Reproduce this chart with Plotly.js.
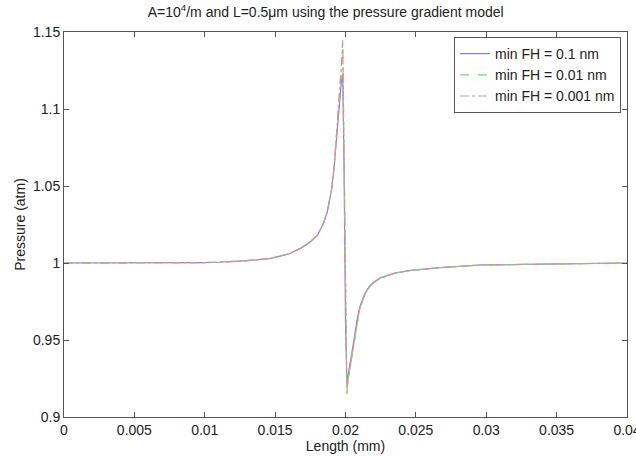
<!DOCTYPE html>
<html>
<head>
<meta charset="utf-8">
<script src="https://cdn.plot.ly/plotly-3.0.1.min.js"></script>
<style>html,body{margin:0;padding:0;background:#fff;}#chart{width:636px;height:457px;}</style>
</head>
<body>
<div id="chart"></div>
<script>
const lengthMM = [0,0.005,0.01,0.011,0.013,0.0147,0.0160,0.0168,0.0174,0.0180,0.0184,0.0187,0.0190,0.0192,0.01935,0.0195,0.0196,0.0197,0.0198,0.0199,0.0200,0.0201,0.0202,0.0204,0.0206,0.0208,0.0210,0.0212,0.0214,0.0217,0.0220,0.0225,0.0235,0.0245,0.0267,0.0296,0.035,0.04];
const fh01   = [1,1,1.0003,1.0005,1.0015,1.003,1.006,1.0095,1.013,1.018,1.025,1.033,1.047,1.063,1.080,1.100,1.110,1.117,1.123,1.06,0.96,0.922,0.928,0.938,0.950,0.962,0.971,0.976,0.9805,0.985,0.9875,0.9905,0.9935,0.995,0.997,0.9987,0.9995,1];
const fh001  = [1,1,1.0003,1.0005,1.0015,1.003,1.006,1.0095,1.013,1.018,1.025,1.033,1.047,1.063,1.081,1.102,1.114,1.127,1.145,1.07,0.96,0.915,0.925,0.936,0.949,0.961,0.970,0.975,0.980,0.9845,0.9872,0.9903,0.9933,0.995,0.997,0.9987,0.9995,1];
const fh0001 = [1,1,1.0003,1.0005,1.0015,1.003,1.006,1.0095,1.013,1.018,1.025,1.033,1.047,1.063,1.081,1.102,1.113,1.126,1.143,1.07,0.96,0.916,0.925,0.936,0.949,0.961,0.970,0.975,0.980,0.9845,0.9872,0.9903,0.9933,0.995,0.997,0.9987,0.9995,1];
const seriesNames = ['min FH = 0.1 nm','min FH = 0.01 nm','min FH = 0.001 nm'];
const xTicks = [0,0.005,0.01,0.015,0.02,0.025,0.03,0.035,0.04];
const xTickText = ['0','0.005','0.01','0.015','0.02','0.025','0.03','0.035','0.04'];
const yTicks = [0.9,0.95,1,1.05,1.1,1.15];
const yTickText = ['0.9','0.95','1','1.05','1.1','1.15'];

const fam = 'Liberation Sans, Arial, sans-serif';
const font = {family:fam, size:14, color:'#222'};
const traces = [
  {x:lengthMM, y:fh01, name:seriesNames[0], mode:'lines', line:{color:'#8080e6', width:1.2, dash:'solid'}},
  {x:lengthMM, y:fh001, name:seriesNames[1], mode:'lines', line:{color:'#6ce06c', width:1.2, dash:'dash'}},
  {x:lengthMM, y:fh0001, name:seriesNames[2], mode:'lines', line:{color:'#e88c8c', width:1.2, dash:'dashdot'}}
];
const axisCommon = {showline:true, linecolor:'#555', linewidth:1, mirror:'allticks', ticks:'inside', ticklen:5, tickcolor:'#555', showgrid:false, zeroline:false, tickfont:font, ticklabeloverflow:'allow'};
const layout = {
  width:636, height:457,
  margin:{l:64, r:9, t:32, b:40},
  paper_bgcolor:'#fff', plot_bgcolor:'#fff',
  font:font,
  title:{text:'A=10<sup>4</sup>/m and L=0.5μm using the pressure gradient model', font:{family:fam, size:14, color:'#222'}, x:0.512, xanchor:'center', y:0.973, yanchor:'middle'},
  xaxis:Object.assign({}, axisCommon, {range:[0,0.04], tickvals:xTicks, ticktext:xTickText, title:{text:'Length (mm)', font:font, standoff:0}}),
  yaxis:Object.assign({}, axisCommon, {range:[0.9,1.15], tickvals:yTicks, ticktext:yTickText, title:{text:'Pressure (atm)', font:font, standoff:4}}),
  showlegend:true,
  legend:{x:0.9893, y:0.987, xanchor:'right', yanchor:'top', bgcolor:'#fff', bordercolor:'#555', borderwidth:1, font:{family:fam, size:14, color:'#222'}, tracegroupgap:0, itemwidth:30}
};
Plotly.newPlot('chart', traces, layout, {displayModeBar:false, staticPlot:true});
</script>
</body>
</html>
